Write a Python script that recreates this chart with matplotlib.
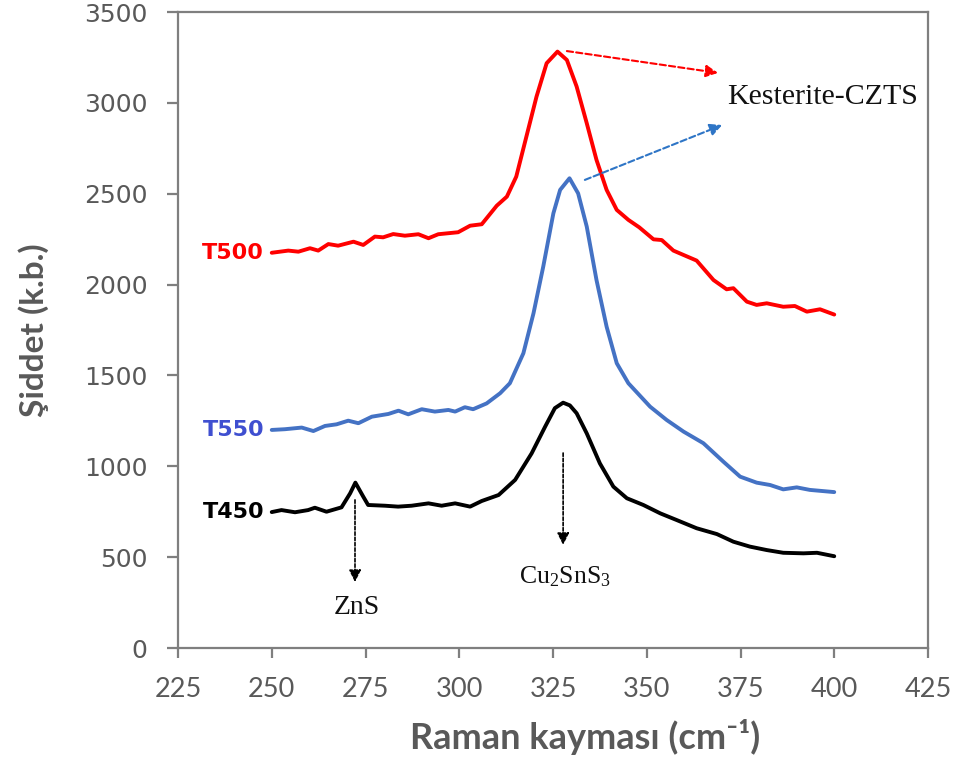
import matplotlib
matplotlib.use("Agg")
import matplotlib.pyplot as plt

# ---- data ----
t500_x = [250.0, 254.4, 257.1, 260.2, 262.4, 265.1, 267.7, 271.8, 274.4, 277.5, 279.7, 282.4,
          285.5, 289.1, 291.8, 294.4, 299.7, 302.9, 306.0, 310.0, 312.7, 315.2, 317.9, 320.6,
          323.3, 326.2, 328.7, 331.3, 334.0, 336.6, 339.3, 342.0, 345.1, 348.0, 351.8,
          354.0, 357.1, 359.8, 363.3, 367.8, 371.3, 373.1, 376.7, 379.3, 382.0, 386.4, 389.5,
          392.7, 396.2, 400.0]
t500_y = [2175, 2187, 2181, 2200, 2187, 2223, 2214, 2236, 2218, 2264, 2260, 2278,
          2269, 2277, 2255, 2277, 2288, 2324, 2332, 2434, 2484, 2594, 2814, 3034,
          3218, 3282, 3236, 3090, 2888, 2686, 2521, 2411, 2356, 2315, 2249,
          2245, 2187, 2163, 2132, 2025, 1974, 1980, 1906, 1888, 1897, 1878, 1882,
          1851, 1864, 1835]

t550_x = [250.0, 253.5, 258.0, 261.1, 264.2, 267.3, 270.4, 273.1, 276.7, 281.1, 283.8, 286.4,
          290.0, 293.5, 297.1, 298.9, 301.5, 303.7, 307.3, 310.9, 313.5, 317.1, 319.8, 322.4,
          325.1, 326.9, 329.4, 331.7, 334.0, 336.6, 339.3, 342.0, 345.1, 350.9,
          355.3, 359.8, 365.1, 370.4, 374.9, 379.3, 382.9, 386.4, 390.0, 393.5, 400.0]
t550_y = [1200, 1204, 1213, 1194, 1222, 1231, 1251, 1237, 1273, 1288, 1306, 1286,
          1314, 1301, 1310, 1301, 1325, 1314, 1346, 1402, 1457, 1622, 1842, 2099,
          2392, 2521, 2585, 2502, 2319, 2025, 1768, 1567, 1457, 1328,
          1255, 1191, 1127, 1026, 943, 910, 897, 873, 884, 870, 858]

t450_x = [250.0, 252.6, 256.2, 259.7, 261.5, 264.6, 268.6, 270.9, 272.3, 274.4, 275.7, 280.2,
          283.7, 287.3, 291.8, 295.3, 298.9, 302.9, 306.0, 310.5, 314.9, 319.3, 322.9, 325.5,
          327.7, 329.5, 331.3, 334.0, 337.5, 341.1, 344.7, 349.1, 353.6, 358.0, 363.3, 368.7,
          373.1, 377.5, 382.0, 386.4, 391.8, 395.4, 400.0]
t450_y = [748, 759, 747, 759, 772, 750, 774, 851, 910, 833, 787, 783,
          778, 783, 796, 783, 796, 778, 809, 842, 925, 1071, 1218, 1320,
          1350, 1335, 1292, 1181, 1016, 888, 824, 787, 741, 704, 659, 627,
          585, 558, 539, 524, 521, 524, 505]

series_names = ["T500", "T550", "T450"]
x_ticks = [225, 250, 275, 300, 325, 350, 375, 400, 425]
y_ticks = [0, 500, 1000, 1500, 2000, 2500, 3000, 3500]

# ---- figure ----
fig = plt.figure(figsize=(9.65, 7.62), dpi=100)
ax = fig.add_axes([178 / 965, 1 - 648 / 762, 750 / 965, 636 / 762])

lw = 2.8
for xs, ys, c in [(t500_x, t500_y, "#FF0000"), (t550_x, t550_y, "#4472C4"),
                  (t450_x, t450_y, "#000000")]:
    ax.plot(xs, ys, color=c, lw=lw, solid_capstyle="round", solid_joinstyle="round")

ax.set_xlim(225, 425)
ax.set_ylim(0, 3500)
ax.set_xticks(x_ticks)
ax.set_yticks(y_ticks)

gray = "#7F7F7F"
for s in ax.spines.values():
    s.set_color(gray)
    s.set_linewidth(1.6)

ax.tick_params(axis="y", direction="out", length=8, width=1.6, color=gray,
               labelsize=18, labelcolor="#595959", pad=14)
ax.tick_params(axis="x", direction="out", length=7, width=1.6, color=gray,
               labelsize=19.5, labelcolor="#595959", pad=14)
for lab in ax.get_xticklabels():
    lab.set_fontfamily("Lato")

ax.set_xlabel("Raman kayması (cm⁻¹)", fontsize=26, fontweight="bold",
              color="#595959", family=["Lato", "DejaVu Sans"])
ax.xaxis.set_label_coords(0.543, -0.112)
ax.set_ylabel("Şiddet (k.b.)", fontsize=24, fontweight="bold",
              color="#595959", family="Lato")
ax.yaxis.set_label_coords(-0.172, 0.5)

# series labels at start of curves
label_colors = ["#FF0000", "#3F4FD0", "#000000"]
starts = [t500_y[0], t550_y[0], t450_y[0]]
for name, c, y0 in zip(series_names, label_colors, starts):
    ax.text(248, y0, name, color=c, fontsize=16, fontweight="bold",
            ha="right", va="center")

# annotations
serif = "Liberation Serif"
plt.rcParams["mathtext.fontset"] = "custom"
plt.rcParams["mathtext.rm"] = serif
plt.rcParams["mathtext.it"] = serif

ax.annotate("", xy=(369.0, 3165), xytext=(328.7, 3285),
            arrowprops=dict(arrowstyle="-|>", color="#FF0000", lw=1.5, ls=(0, (3, 1.5)),
                            mutation_scale=18, shrinkA=0, shrinkB=0))
ax.annotate("", xy=(370.1, 2878), xytext=(333.5, 2576),
            arrowprops=dict(arrowstyle="-|>", color="#2E75C6", lw=1.5, ls=(0, (3, 1.5)),
                            mutation_scale=18, shrinkA=0, shrinkB=0))
ax.text(371.4, 3030, "Kesterite-CZTS", family=serif, fontsize=21.5, color="#111111",
        ha="left", va="center")

ax.annotate("", xy=(272.2, 363), xytext=(272.2, 815),
            arrowprops=dict(arrowstyle="-|>", color="#000000", lw=1.2, ls=(0, (2, 1.2)),
                            mutation_scale=18, shrinkA=0, shrinkB=0))
ax.text(272.7, 225, "ZnS", family=serif, fontsize=20, color="#111111",
        ha="center", va="center")

ax.annotate("", xy=(327.7, 567), xytext=(327.7, 1073),
            arrowprops=dict(arrowstyle="-|>", color="#000000", lw=1.2, ls=(0, (2, 1.2)),
                            mutation_scale=18, shrinkA=0, shrinkB=0))
ax.text(328.2, 391, "Cu$_\\mathrm{2}$SnS$_\\mathrm{3}$", family=serif, fontsize=18.5,
        color="#111111", ha="center", va="center")

fig.savefig("out.png", dpi=100)
